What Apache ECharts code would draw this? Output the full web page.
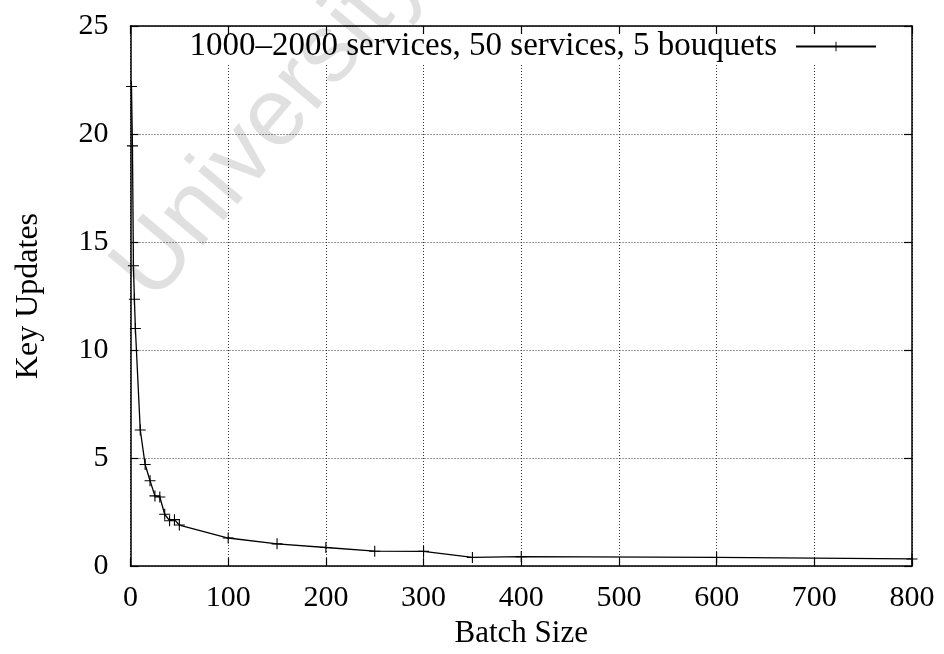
<!DOCTYPE html>
<html>
<head>
<meta charset="utf-8">
<script src="https://cdn.jsdelivr.net/npm/echarts@6/dist/echarts.min.js"></script>
<style>
  html, body { margin: 0; padding: 0; background: #fff; }
  #chart { width: 944px; height: 654px; }
</style>
</head>
<body>
<div id="chart"></div>
<script>
// Batch size vs. number of key updates
const batchSizes = [1, 2, 3, 4, 5, 10, 15, 20, 25, 30, 35, 40, 45, 50, 100, 150, 200, 250, 300, 350, 400, 600, 800];
const keyUpdates = [22.2, 19.45, 13.9, 12.35, 11.0, 6.3, 4.7, 3.95, 3.25, 3.2, 2.4, 2.1, 2.15, 1.9, 1.3, 1.03, 0.86, 0.69, 0.68, 0.4, 0.44, 0.4, 0.33];
const seriesName = '1000\u20132000 services, 50 services, 5 bouquets';
const xTicks = { min: 0, max: 800, step: 100 };
const yTicks = { min: 0, max: 25, step: 5 };

const FONT = '"Liberation Serif", "Times New Roman", serif';
const plusSymbol = 'path://M9,0H11V9H20V11H11V20H9V11H0V9H9Z';

const chart = echarts.init(document.getElementById('chart'), null, { renderer: 'canvas' });

// mirrored frame axes (top / right) carrying inward ticks only
const frameAxis = (pos, ext) => ({
  type: 'value',
  position: pos,
  min: ext.min, max: ext.max, interval: ext.step,
  axisLine: { show: true, onZero: false, lineStyle: { color: '#000', width: 1.5 } },
  axisTick: { show: true, inside: true, length: 8, lineStyle: { color: '#000', width: 1.2 } },
  axisLabel: { show: false },
  splitLine: { show: false },
  z: 10
});

chart.setOption({
  animation: false,
  backgroundColor: '#fff',
  grid: { left: 130.5, right: 32, top: 26, bottom: 87, containLabel: false },
  xAxis: [
    {
      type: 'value',
      min: xTicks.min, max: xTicks.max, interval: xTicks.step,
      name: 'Batch Size',
      nameLocation: 'middle',
      nameGap: 51,
      nameTextStyle: { fontFamily: FONT, fontSize: 31, color: '#000' },
      axisLine: { show: true, onZero: false, lineStyle: { color: '#000', width: 1.5 } },
      axisTick: { show: true, inside: true, length: 8, lineStyle: { color: '#000', width: 1.2 } },
      axisLabel: { fontFamily: FONT, fontSize: 30, color: '#000', margin: 17 },
      splitLine: { show: true, lineStyle: { color: '#333', width: 1, type: [1, 2] } }
    },
    frameAxis('top', xTicks)
  ],
  yAxis: [
    {
      type: 'value',
      min: yTicks.min, max: yTicks.max, interval: yTicks.step,
      name: 'Key Updates',
      nameLocation: 'middle',
      nameGap: 86,
      nameTextStyle: { fontFamily: FONT, fontSize: 32, color: '#000' },
      axisLine: { show: true, onZero: false, lineStyle: { color: '#000', width: 1.5 } },
      axisTick: { show: true, inside: true, length: 8, lineStyle: { color: '#000', width: 1.2 } },
      axisLabel: { fontFamily: FONT, fontSize: 30, color: '#000', margin: 22 },
      splitLine: { show: true, lineStyle: { color: '#333', width: 1, type: [1, 2] } }
    },
    frameAxis('right', yTicks)
  ],
  legend: {
    show: true,
    right: 37,
    top: 28,
    orient: 'horizontal',
    align: 'right',
    backgroundColor: '#fff',
    padding: [2, 30, 2, 10],
    itemWidth: 80,
    itemHeight: 12,
    z: 5,
    textStyle: { fontFamily: FONT, fontSize: 33, color: '#000', padding: [0, 14, 0, 0] },
    data: [{ name: seriesName }]
  },
  series: [{
    name: seriesName,
    type: 'line',
    xAxisIndex: 0,
    yAxisIndex: 0,
    data: batchSizes.map((b, i) => [b, keyUpdates[i]]),
    symbol: plusSymbol,
    symbolSize: 11,
    showSymbol: true,
    clip: true,
    lineStyle: { color: '#000', width: 1.3 },
    itemStyle: { color: '#000', borderWidth: 0 },
    z: 3
  }],
  graphic: [{
    type: 'text',
    x: 270, y: 124,
    rotation: 50 * Math.PI / 180,
    z: 100,
    silent: true,
    style: {
      text: 'University',
      fontFamily: '"Liberation Sans", Arial, sans-serif',
      fontSize: 97,
      fill: 'rgba(0,0,0,0.12)',
      align: 'center',
      verticalAlign: 'middle'
    }
  }]
});
</script>
</body>
</html>
